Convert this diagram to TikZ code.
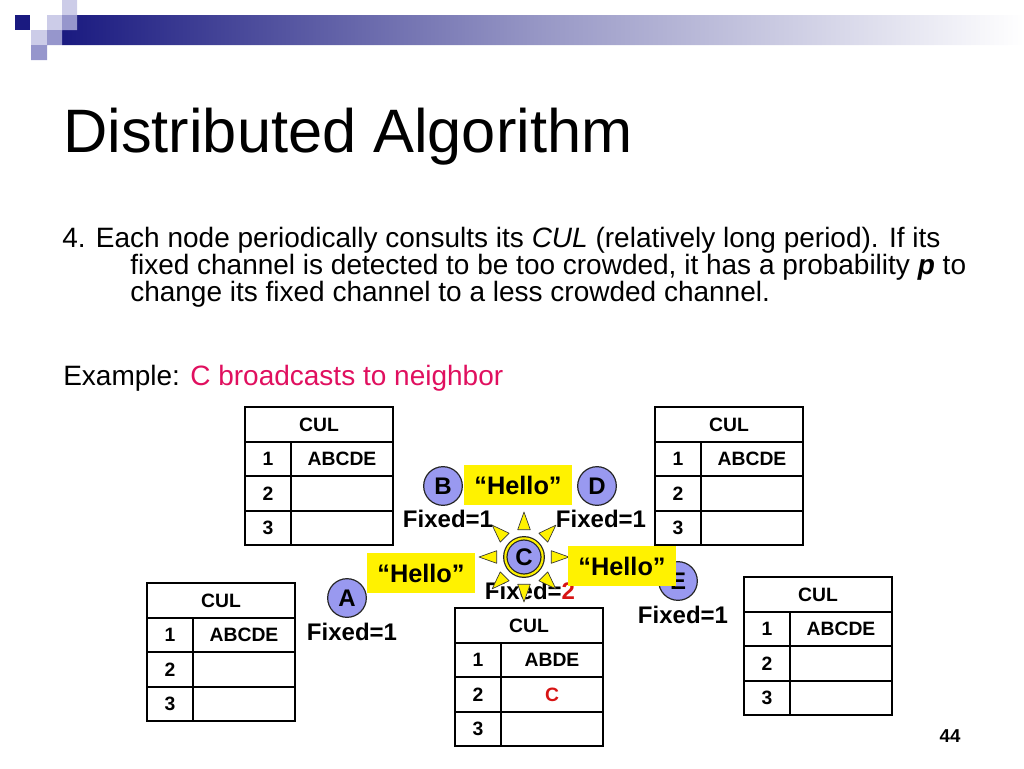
\documentclass[tikz,border=0pt]{standalone}
\usepackage{fontspec}
\setmainfont{Liberation Sans}
\usetikzlibrary{positioning, calc}

\definecolor{navy}{RGB}{26,26,128}
\definecolor{lavlight}{RGB}{204,204,232}
\definecolor{lavmid}{RGB}{150,150,204}
\definecolor{pinkred}{RGB}{224,16,95}
\definecolor{nodeblue}{RGB}{153,153,240}
\definecolor{cred}{RGB}{215,20,20}

% CUL table: name, left x, top y, row 1, row 2
\newcommand{\cultab}[5]{%
  \draw[line width=2.2pt] (#2,#3) rectangle ++(148,138);
  \draw[line width=1.4pt] (#2,#3+35) -- ++(148,0) (#2,#3+69) -- ++(148,0)
    (#2,#3+104) -- ++(148,0) (#2+46,#3+35) -- ++(0,103);
  \node[cell] (#1-h) at (#2+74,#3+17.5) {CUL};
  \node[cell] (#1-n1) at (#2+23,#3+52) {1};
  \node[cell] (#1-n2) at (#2+23,#3+86.5) {2};
  \node[cell] (#1-n3) at (#2+23,#3+121) {3};
  \node[cell] (#1-r1) at (#2+97,#3+52) {#4};
  \node[cell] (#1-r2) at (#2+97,#3+86.5) {#5};
}

\begin{document}
\begin{tikzpicture}[x=0.75pt, y=-0.75pt,
    cell/.style={font=\fontsize{14.5}{16}\selectfont\bfseries, inner sep=0pt},
    body/.style={font=\fontsize{21}{24}\selectfont, inner sep=0pt, anchor=base west},
    station/.style={circle, draw=black!85, line width=0.9pt, fill=nodeblue,
      minimum size=29pt, inner sep=0pt, font=\fontsize{18}{20}\selectfont\bfseries},
    fixedlbl/.style={font=\fontsize{18}{20}\selectfont\bfseries, inner sep=0pt},
    hello/.style={fill=yellow, minimum width=81pt, minimum height=30pt, inner sep=0pt,
      font=\fontsize{19}{21}\selectfont\bfseries},
    ray/.style={fill=yellow, draw=black!80, line width=0.5pt, line join=round}]
    \useasboundingbox (0,0) rectangle (1024,768);

    % Header banner and squares
    \shade[left color=navy, right color=white, middle color=navy!45!white]
      (62,45) -- (62,30) -- (77,30) -- (77,15) -- (1024,15) -- (1024,45) -- cycle;
    \fill[navy] (15,15) rectangle (30,30);
    \fill[lavlight] (47,15) rectangle (62,30) (62,0) rectangle (77,15) (31,30) rectangle (47,45);
    \fill[lavmid] (62,15) rectangle (77,30) (47,30) rectangle (62,45) (31,45) rectangle (47,60);

    % Title and text
    \node[font=\fontsize{46}{50}\selectfont, inner sep=0pt, anchor=base west] (title) at (63,152) {Distributed Algorithm};
    \node[body] (line1) at (62,247) {4. Each node periodically consults its \textit{CUL} (relatively long period). If its};
    \node[body] (line2) at (130,274) {fixed channel is detected to be too crowded, it has a probability \textbf{\textit{p}} to};
    \node[body] (line3) at (130,301) {change its fixed channel to a less crowded channel.};
    \node[body] (example) at (63,385) {Example: \textcolor{pinkred}{C broadcasts to neighbor}};

    % Tables
    \cultab{tabB}{245}{407}{ABCDE}{}
    \cultab{tabD}{655}{407}{ABCDE}{}
    \cultab{tabA}{147}{583}{ABCDE}{}
    \cultab{tabC}{455}{608}{ABDE}{\textcolor{cred}{C}}
    \cultab{tabE}{744}{577}{ABCDE}{}

    % Stations
    \node[station] (B) at (443,486) {B};
    \node[station] (D) at (597,486) {D};
    \node[station] (A) at (347,598) {A};
    \node[station] (E) at (678,581) {E};
    \node[fixedlbl] (fB) at (448,519) {Fixed=1};
    \node[fixedlbl] (fD) at (601,519) {Fixed=1};
    \node[fixedlbl] (fA) at (352,632) {Fixed=1};
    \node[fixedlbl] (fE) at (683,615) {Fixed=1};
    \node[fixedlbl] (fC) at (530,591) {Fixed=\textcolor{cred}{2}};

    % C broadcasting
    \coordinate (sun) at (524,557);
    \foreach \a in {0,45,...,315}
      \draw[ray] ($(sun)+(\a:45)$) -- ($(sun)+(\a+13:28)$) -- ($(sun)+(\a-13:28)$) -- cycle;
    \node[station, double=yellow, double distance=1.6pt, minimum size=28pt] (C) at (sun) {C};

    \node[hello] (h1) at (518,485) {``Hello''};
    \node[hello] (h2) at (421,573) {``Hello''};
    \node[hello] (h3) at (622,566) {``Hello''};

    \node[font=\fontsize{14}{16}\selectfont\bfseries, inner sep=0pt] (pgno) at (950,736) {44};
\end{tikzpicture}
\end{document}
